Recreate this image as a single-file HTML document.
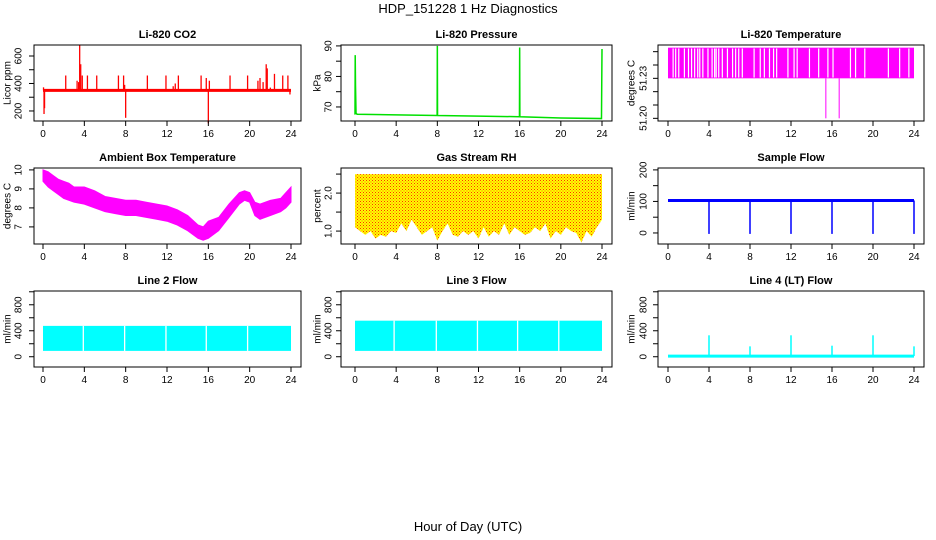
<!DOCTYPE html>
<html><head><meta charset="utf-8"><style>
body{margin:0;background:#fff}
svg{display:block;font-family:"Liberation Sans",sans-serif}
</style></head><body>
<svg id="c" width="936" height="540" viewBox="0 0 936 540">
<defs><pattern id="rhpat" width="3" height="3" patternUnits="userSpaceOnUse"><rect width="3" height="3" fill="#ffff00"/><rect x="0" y="0" width="1" height="1" fill="#ff3000"/><rect x="1.5" y="1.5" width="1" height="1" fill="#ff6000"/></pattern></defs>
<text x="468" y="13" font-size="13" text-anchor="middle">HDP_151228  1 Hz Diagnostics</text>
<text x="468" y="531" font-size="13" text-anchor="middle">Hour of Day (UTC)</text>
</svg>
<script>
// ---- data ----
const xTicks=[0,4,8,12,16,20,24];
const co2Spikes=[[0.05,372],[0.1,178],[0.15,220],[2.2,458],[3.3,420],[3.45,410],[3.55,680],[3.65,540],[3.8,458],[4.3,458],[5.2,458],[7.3,458],[7.8,458],[7.9,390],[8.0,150],[10.1,458],[11.9,458],[12.6,380],[12.8,400],[13.1,458],[15.3,458],[15.8,440],[16.0,110],[16.1,420],[18.1,458],[19.8,458],[20.8,420],[21.0,440],[21.3,410],[21.6,540],[21.7,510],[22.0,370],[22.4,470],[23.2,458],[23.7,458],[23.9,320]];
const co2Base=350;
const presHours=[0,0.02,0.05,0.1,0.2,4,7.98,8.0,8.02,12,15.98,16.0,16.02,20,23.95,24.0];
const presVals=[67.5,87,77,68,67.6,67.4,67.2,90,67.2,67.0,66.8,89.5,66.8,66.4,66.2,89];
const ltGaps=[0.5,0.75,1.05,1.6,2.0,2.3,2.6,2.9,3.1,3.4,3.9,4.3,4.55,4.7,4.95,5.3,5.8,6.3,6.6,6.9,7.25,8.4,9.0,9.4,9.9,10.3,10.6,11.7,12.3,12.6,13.8,14.7,15.6,16.1,17.8,18.3,19.2,21.5,22.6,23.5];
const ltDips=[15.4,16.7];
const ambHours=[0,0.5,1,1.5,2,2.5,3,4,5,6,7,8,9,10,11,12,13,14,15,15.5,16,17,18,19,19.5,20,20.5,21,22,23,23.5,24];
const ambLow=[9.4,9.1,8.9,8.7,8.5,8.4,8.3,8.2,8.0,7.8,7.7,7.6,7.6,7.5,7.4,7.3,7.1,6.8,6.4,6.3,6.4,6.8,7.5,8.2,8.4,8.3,7.6,7.4,7.6,7.8,8.0,8.3];
const ambHigh=[10.0,9.9,9.7,9.5,9.4,9.3,9.1,9.1,8.9,8.6,8.5,8.4,8.4,8.3,8.2,8.1,7.9,7.6,7.1,7.0,7.3,7.5,8.2,8.8,8.9,8.8,8.3,8.2,8.4,8.5,8.8,9.1];
const rhHours=[0,0.5,1,1.5,2,2.5,3,3.5,4,4.5,5,5.5,6,6.5,7,7.5,8,8.5,9,9.5,10,10.5,11,11.5,12,12.5,13,13.5,14,14.5,15,15.5,16,16.5,17,17.5,18,18.5,19,19.5,20,20.5,21,21.5,22,22.5,23,23.5,24];
const rhLow=[1.1,1.0,0.9,1.0,0.8,0.9,0.85,1.0,0.95,1.2,1.0,1.3,1.1,0.9,1.0,1.1,0.75,1.0,1.2,0.9,0.85,1.0,0.9,1.0,0.8,1.1,0.85,1.0,0.9,1.2,0.9,1.1,1.0,0.9,0.95,1.1,1.0,1.2,0.8,1.0,0.9,1.1,1.0,0.95,0.7,1.0,0.85,1.1,1.3];
const rhTop=2.5;
const flowBase=103;
const flowDips=[4,8,12,16,20,24];
const l2Gaps=[3.9,7.9,11.9,15.8,19.8];
const l3Gaps=[3.8,7.9,11.9,15.8,19.8];
const l4Spikes=[[4,330],[8,160],[12,330],[16,170],[20,330],[24,160]];

// ---- layout ----
const S=document.getElementById('c'),NS='http://www.w3.org/2000/svg';
const cols=[{bx:34,bw:267,x0:43,x1:291,tl:19,yl:8},{bx:341,bw:271,x0:355,x1:602,tl:329,yl:318},{bx:658,bw:266,x0:668,x1:914,tl:644,yl:632}];
const rows=[{by:45,bh:76},{by:168,bh:76},{by:291,bh:76}];
function el(t,a,p){const e=document.createElementNS(NS,t);for(const k in a)e.setAttribute(k,a[k]);(p||S).appendChild(e);return e;}
function panel(r,c,title,ylab,ymin,ymax,ticks,labels){
  const C=cols[c],R=rows[r];const g=el('g',{});
  
  
  const X=h=>C.x0+(C.x1-C.x0)*h/24;
  const Y=v=>R.by+R.bh-(v-ymin)/(ymax-ymin)*R.bh;
  const plot=el('g',{},g);
  
  
  const t=el('text',{x:C.bx+C.bw/2,y:R.by-7,'font-size':11,'font-weight':'bold','text-anchor':'middle'},g);t.textContent=title;
  
  
  const yl=el('text',{x:C.yl,y:R.by+R.bh/2,'font-size':10,'text-anchor':'middle',transform:`rotate(-90 ${C.yl} ${R.by+R.bh/2})`,'dominant-baseline':'middle'},g);yl.textContent=ylab;
  
  
  const b=R.by+R.bh;
  xTicks.forEach(h=>{el('line',{x1:X(h),x2:X(h),y1:b,y2:b+5,stroke:'#000'},g);
    const tx=el('text',{x:X(h),y:b+16,'font-size':10,'text-anchor':'middle'},g);tx.textContent=h;
    
    });
  ticks.forEach((v,i)=>{el('line',{x1:C.bx,x2:C.bx-5,y1:Y(v),y2:Y(v),stroke:'#000'},g);
    if(labels[i]!==''){const tx=el('text',{x:C.tl,y:Y(v),'font-size':10,'text-anchor':'middle','dominant-baseline':'middle',transform:`rotate(-90 ${C.tl} ${Y(v)})`},g);tx.textContent=labels[i];
    
    }});
  const box=el('rect',{x:C.bx,y:R.by,width:C.bw,height:R.bh,fill:'none',stroke:'#000'},g);
  
  
  return {X,Y,p:plot,g,box};
}
function L(P,x1,y1,x2,y2,col,w){const l=el('line',{x1,y1,x2,y2,stroke:col,'stroke-width':w||1},P.p);return l;}

// CO2
let P=panel(0,0,'Li-820 CO2','Licor ppm',127,680,[200,300,400,500,600],['200','','400','','600']);
co2Spikes.forEach(([h,v])=>{const l=L(P,P.X(h),P.Y(co2Base),P.X(h),P.Y(v),'#ff0000',1.3);
  
  });
let ln=L(P,P.X(0),P.Y(co2Base),P.X(24),P.Y(co2Base),'#ff0000',3);


// Pressure
P=panel(0,1,'Li-820 Pressure','kPa',65.4,90.3,[70,75,80,85,90],['70','','80','','90']);
let pl=el('polyline',{points:presHours.map((h,i)=>P.X(h)+','+P.Y(presVals[i])).join(' '),fill:'none',stroke:'#00e000','stroke-width':1.5},P.p);


// Li temp
P=panel(0,2,'Li-820 Temperature','degrees C',51.199,51.2275,[51.2,51.205,51.21,51.215,51.22,51.225],['51.20','','','51.23','','']);
let rr=el('rect',{x:P.X(0),y:P.Y(51.2265),width:P.X(24)-P.X(0),height:P.Y(51.215)-P.Y(51.2265),fill:'#ff00ff'},P.p);


ltGaps.forEach(h=>{const l=L(P,P.X(h),P.Y(51.2262),P.X(h),P.Y(51.2153),'#fff',1.2);
  
  });
ltDips.forEach(h=>{const l=L(P,P.X(h),P.Y(51.215),P.X(h),P.Y(51.2),'#ff00ff',1);
  
  });
// Ambient
P=panel(1,0,'Ambient Box Temperature','degrees C',6.1,10.1,[7,8,9,10],['7','8','9','10']);
let pts=ambHours.map((h,i)=>P.X(h)+','+P.Y(ambHigh[i])).concat(ambHours.map((h,i)=>P.X(h)+','+P.Y(ambLow[i])).reverse());
let pg=el('polygon',{points:pts.join(' '),fill:'#ff00ff',stroke:'#ff00ff','stroke-width':1},P.p);


// RH
P=panel(1,1,'Gas Stream RH','percent',0.66,2.66,[1.0,1.5,2.0,2.5],['1.0','','2.0','']);
let pts2=rhHours.map((h,i)=>P.X(h)+','+P.Y(rhLow[i])).reverse();
let rg=el('polygon',{points:[P.X(0)+','+P.Y(rhTop),P.X(24)+','+P.Y(rhTop)].concat(pts2).join(' '),fill:'url(#rhpat)'},P.p);


// Sample flow
P=panel(1,2,'Sample Flow','ml/min',-35,206,[0,50,100,150,200],['0','','100','','200']);
ln=L(P,P.X(0),P.Y(flowBase),P.X(24),P.Y(flowBase),'#0000ff',3);


flowDips.forEach(h=>{const l=L(P,P.X(h),P.Y(flowBase),P.X(h),P.Y(-3),'#0000ff',1.5);
  
  });
// Line 2/3/4
function flowBand(P,lo,hi,gaps,name){const r=el('rect',{x:P.X(0),y:P.Y(hi),width:P.X(24)-P.X(0),height:P.Y(lo)-P.Y(hi),fill:'#00ffff'},P.p);
  
  
  gaps.forEach(h=>{const l=L(P,P.X(h),P.Y(hi),P.X(h),P.Y(lo),'#fff',1.3);
    
    });}
const ft=[0,200,400,600,800,1000],fl=['0','','400','','800',''];
P=panel(2,0,'Line 2 Flow','ml/min',-158,1012,ft,fl);flowBand(P,90,475,l2Gaps,'line2-flow-band');
P=panel(2,1,'Line 3 Flow','ml/min',-158,1012,ft,fl);flowBand(P,90,555,l3Gaps,'line3-flow-band');
P=panel(2,2,'Line 4 (LT) Flow','ml/min',-158,1012,ft,fl);
ln=L(P,P.X(0),P.Y(10),P.X(24),P.Y(10),'#00ffff',3);


l4Spikes.forEach(([h,v])=>{const l=L(P,P.X(h),P.Y(10),P.X(h),P.Y(v),'#00ffff',1.5);
  
  });
</script>
</body></html>
